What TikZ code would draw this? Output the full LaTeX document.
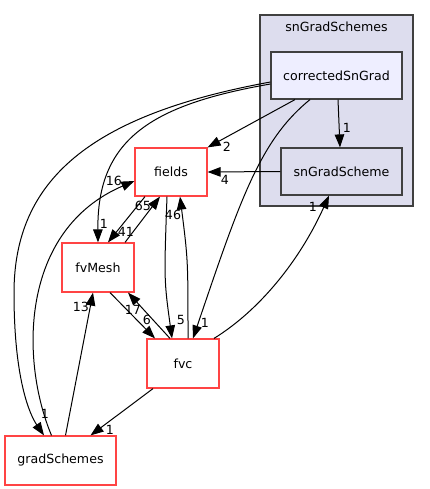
\documentclass[tikz,border=0pt]{standalone}
\usepackage{fontspec}
\setmainfont{DejaVu Sans}
\usetikzlibrary{arrows.meta}

\definecolor{clusterfill}{HTML}{DDDDEE}
\definecolor{subfill}{HTML}{EEEEFF}
\definecolor{dirred}{HTML}{FF4444}

\begin{document}
\begin{tikzpicture}[x=1pt,y=-1pt,
  every node/.style={font=\fontsize{12.6}{15}\selectfont},
  dir/.style={draw=dirred,line width=1.2pt,fill=white,minimum width=72pt,minimum height=48pt,inner sep=0pt},
  subdir/.style={draw=black!75,line width=1.2pt,minimum height=47pt,inner sep=0pt},
  dep/.style={-{Triangle[length=13pt,width=9.5pt]},line width=1pt},
  num/.style={inner sep=0pt}]

\useasboundingbox (0,0) rectangle (429,489);

\node[draw=black!75,line width=1.1pt,fill=clusterfill,minimum width=153pt,minimum height=191pt] (sngrad) at (336.5,110.5) {};
\node (sngradlbl) at (336.5,27) {snGradSchemes};

\node[subdir,fill=subfill,minimum width=131pt] (corr) at (336.5,75.5) {correctedSnGrad};
\node[subdir,fill=clusterfill,minimum width=121pt] (sngs) at (341.5,171.5) {snGradScheme};

\node[dir] (fields) at (171,172) {fields};
\node[dir,minimum height=49pt] (fvmesh) at (98,267.5) {fvMesh};
\node[dir,minimum height=49pt] (fvc) at (183,363.5) {fvc};
\node[dir,minimum width=111pt,minimum height=49pt] (grads) at (60.5,460.5) {gradSchemes};

\draw[dep] ([xshift=1.5pt]corr.south) -- ([xshift=-1.5pt]sngs.north);
\node[num] (n1) at (347,128) {1};

\draw[dep] ([xshift=-41.5pt]corr.south) -- (fields.north east);
\node[num] (n2) at (227,147) {2};

\draw[dep] ([yshift=-8.5pt]corr.west) .. controls (150,105) and (97,140) .. (fvmesh.north);
\node[num] (n3) at (104,224) {1};

\draw[dep] ([yshift=-6.5pt]corr.west) .. controls (90,115) and (14,180) .. (14,293)
  .. controls (14,380) and (30,415) .. ([xshift=-16.5pt]grads.north);
\node[num] (n4) at (45,414) {1};

\draw[dep] ([xshift=-26.5pt]corr.south) .. controls (260,140) and (240,200) .. ([xshift=10pt]fvc.north);
\node[num] (n5) at (205,323) {1};

\draw[dep] (sngs.west) -- (fields.east);
\node[num] (n6) at (225,180) {4};

\draw[dep] ([xshift=-26pt]fields.south) -- ([xshift=10pt]fvmesh.north);
\node[num] (n7) at (126,232) {41};

\draw[dep] ([xshift=27pt]fvmesh.north) -- ([xshift=-11pt]fields.south);
\node[num] (n8) at (143,206) {65};

\draw[dep] ([xshift=-4pt]fields.south) .. controls (164,280) .. ([xshift=-11pt]fvc.north);
\node[num] (n9) at (181,320) {5};

\draw[dep] ([xshift=5pt]fvc.north) .. controls (188,260) .. ([xshift=9pt]fields.south);
\node[num] (n10) at (173,215) {46};

\draw[dep] ([xshift=12pt]fvmesh.south) -- ([xshift=-28pt]fvc.north);
\node[num] (n11) at (133,310) {17};

\draw[dep] ([xshift=-13pt]fvc.north) -- ([xshift=30pt]fvmesh.south);
\node[num] (n12) at (147,320) {6};

\draw[dep] ([xshift=-30pt]fvc.south) -- ([xshift=30pt]grads.north);
\node[num] (n13) at (110,430) {1};

\draw[dep] ([xshift=5pt]grads.north) -- ([xshift=-5pt]fvmesh.south);
\node[num] (n14) at (81,307) {13};

\draw[dep] ([xshift=-9pt]grads.north) .. controls (20,360) and (20,230) .. ([yshift=-9pt]fields.west);
\node[num] (n15) at (114,181) {16};

\draw[dep] ([xshift=31pt]fvc.north) .. controls (260,310) and (300,260) .. ([xshift=-12.5pt]sngs.south);
\node[num] (n16) at (313,207) {1};

\end{tikzpicture}
\end{document}
